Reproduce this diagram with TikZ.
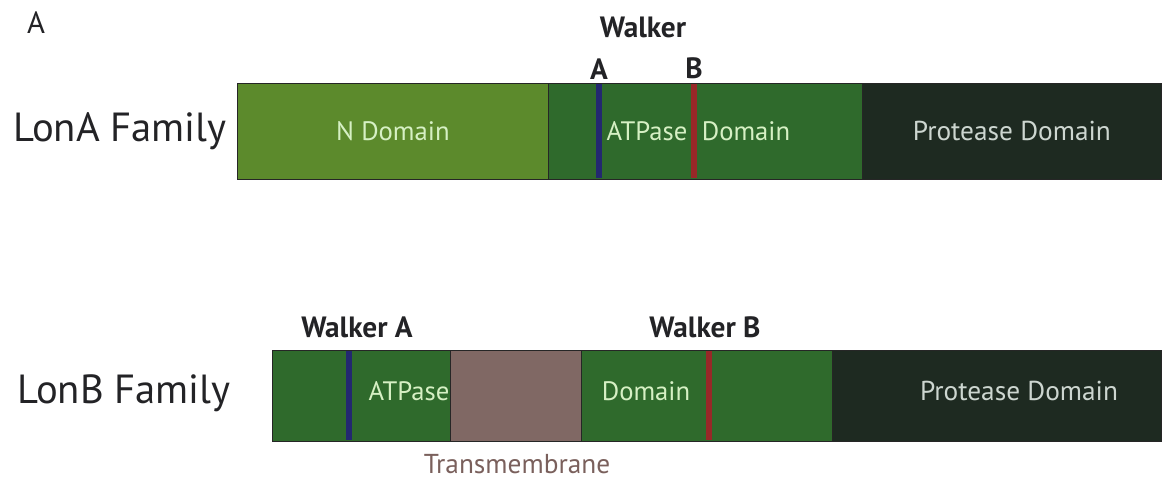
\documentclass[tikz,border=0pt]{standalone}
\usepackage{fontspec}
\setmainfont{PT Sans}
\usetikzlibrary{positioning}

\definecolor{ndom}{RGB}{92,138,44}
\definecolor{atpase}{RGB}{47,106,44}
\definecolor{protease}{RGB}{30,42,33}
\definecolor{tmem}{RGB}{128,104,100}
\definecolor{walkerA}{RGB}{35,40,112}
\definecolor{walkerB}{RGB}{152,40,40}
\definecolor{domtext}{RGB}{214,240,196}
\definecolor{protext}{RGB}{205,214,208}
\definecolor{tmtext}{RGB}{122,96,92}
\definecolor{ink}{RGB}{35,35,38}

\tikzset{
  seg/.style={draw=black!85, line width=0.6pt, anchor=north west, inner sep=0pt},
  domlabel/.style={text=domtext, font=\fontsize{20}{22}\selectfont},
  prolabel/.style={text=protext, font=\fontsize{20.5}{22}\selectfont},
  family/.style={text=ink, font=\fontsize{30.5}{34}\selectfont},
  walker/.style={text=ink, font=\fontsize{22}{24}\selectfont\bfseries},
  motif/.style={line width=4pt}
}

\begin{document}
\begin{tikzpicture}[x=0.75pt, y=-0.75pt]
  \useasboundingbox (0,0) rectangle (1162,479);

  \node[text=ink, font=\fontsize{23}{24}\selectfont] (panel) at (36,23) {A};

  % LonA row
  \node[family] (lonA) at (120,131) {LonA Family};
  \node[seg, fill=ndom, minimum width=311*0.75pt, minimum height=96*0.75pt] (aN) at (237,83) {};
  \node[seg, fill=atpase, minimum width=314*0.75pt, minimum height=96*0.75pt] (aAT) at (548,83) {};
  \node[seg, fill=protease, minimum width=299*0.75pt, minimum height=96*0.75pt] (aPR) at (862,83) {};
  \draw[motif, walkerA] (599,84) coordinate (aWa) -- (599,178);
  \draw[motif, walkerB] (694,84) coordinate (aWb) -- (694,178);
  \node[domlabel] at (aN.center) {N Domain};
  \node[domlabel] (aATt) at (647,131) {ATPase};
  \node[domlabel] (aDomt) at (746,131) {Domain};
  \node[prolabel] at (aPR.center) {Protease Domain};
  \node[walker, above=0pt of aWa] (aWaL) {A};
  \node[walker, above=0pt of aWb] (aWbL) {B};
  \node[walker] (aWalk) at (643,27) {Walker};

  % LonB row
  \node[family] (lonB) at (124,393) {LonB Family};
  \node[seg, fill=atpase, minimum width=178*0.75pt, minimum height=91*0.75pt] (bAT) at (272,350) {};
  \node[seg, fill=tmem, minimum width=131*0.75pt, minimum height=91*0.75pt] (bTM) at (450,350) {};
  \node[seg, fill=atpase, minimum width=251*0.75pt, minimum height=91*0.75pt] (bDom) at (581,350) {};
  \node[seg, fill=protease, minimum width=329*0.75pt, minimum height=91*0.75pt] (bPR) at (832,350) {};
  \draw[motif, walkerA] (349,351) coordinate (bWa) -- (349,440);
  \draw[motif, walkerB] (709,351) coordinate (bWb) -- (709,440);
  \node[domlabel] (bATt) at (409,391) {ATPase};
  \node[domlabel] (bDomt) at (646,391) {Domain};
  \node[prolabel] (bPRt) at (1019,391) {Protease Domain};
  \node[walker] (bWaL) at (357,327) {Walker A};
  \node[walker] (bWbL) at (705,327) {Walker B};
  \node[text=tmtext, inner sep=0pt, font=\fontsize{20.5}{22}\selectfont] (tmL) at (517,464) {Transmembrane};
\end{tikzpicture}
\end{document}
